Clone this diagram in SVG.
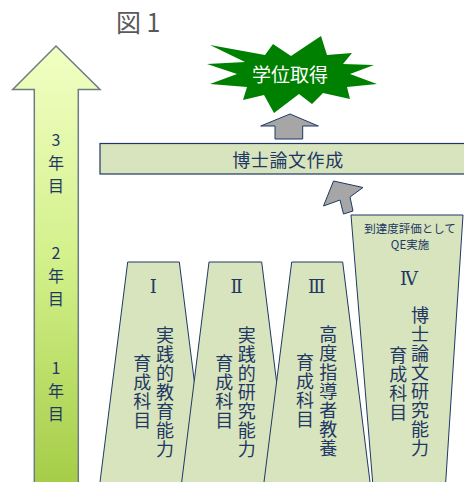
<svg xmlns="http://www.w3.org/2000/svg" width="464" height="482" viewBox="0 0 464 482">
<style>
.jp{font-family:"Noto Sans CJK JP","Noto Sans",sans-serif;fill:#1f3864}
.col{font-size:18px;letter-spacing:1px;writing-mode:vertical-rl;text-orientation:upright}
.yr{font-size:16px;letter-spacing:7px;writing-mode:vertical-rl;text-orientation:upright}
.rn{font-family:"DejaVu Serif","Liberation Serif",serif;fill:#1f3864;font-size:18px;text-anchor:middle}
.trap{fill:#d7e4bd;stroke:#1f3864;stroke-width:1}
.garrow{fill:#a6a6a6;stroke:#1f3864;stroke-width:1}
</style>
<defs>
<linearGradient id="lg" x1="0" y1="46" x2="0" y2="482" gradientUnits="userSpaceOnUse">
<stop offset="0" stop-color="#f2ffc4"/>
<stop offset="0.5" stop-color="#d2f08a"/>
<stop offset="1" stop-color="#a6cd48"/>
</linearGradient>
</defs>
<rect width="464" height="482" fill="#ffffff"/>
<text x="116" y="32" font-family="Noto Sans CJK JP, sans-serif" font-size="25" fill="#595959">図 1</text>

<g id="year-arrow">
<polygon points="56,46 100,89.5 78.3,89.5 78.3,490 34.3,490 34.3,89.5 12.7,89.5" fill="url(#lg)" stroke="#6f7b82" stroke-width="1.5"/>
<text class="jp yr" x="56" y="132">3年目</text>
<text class="jp yr" x="56" y="245">2年目</text>
<text class="jp yr" x="56" y="360">1年目</text>
</g>

<g id="degree">
<polygon points="210,45 265,55 273,44 291,56 321,36 327,55 352,53 343,64 374,65 350,74 377,84 347,87 350,99 323,93 312,104 299,94 274,113 264,95 243,100 247,87 210,84 237,74 207,64 245,62" fill="#008000"/>
<text x="290" y="82" font-family="Noto Sans CJK JP, sans-serif" font-size="19" fill="#ffffff" text-anchor="middle">学位取得</text>
</g>

<g id="thesis">
<rect x="100" y="143.5" width="367" height="30.5" fill="#d7e4bd" stroke="#1f3864" stroke-width="1.2"/>
<text x="288" y="167" class="jp" font-size="18" letter-spacing="0.6" text-anchor="middle">博士論文作成</text>
</g>

<g id="connectors">
<polygon class="garrow" points="290,114 318.3,126 302.7,126 302.7,139 275,139 275,126 260.7,126"/>
<polygon class="garrow" points="333.5,181 363,187.5 350,197 353,211 343.5,214 340,200 323.5,206"/>
</g>

<g id="course1">
<polygon class="trap" points="127.7,262 179.3,262 208,490 99,490"/>
<text class="rn" x="153.3" y="293">Ⅰ</text>
<text class="jp col" x="165" y="326">実践的教育能力</text>
<text class="jp col" x="142.3" y="354">育成科目</text>
</g>

<g id="course2">
<polygon class="trap" points="209,262 261.7,262 290,490 180.7,490"/>
<text class="rn" x="236.7" y="293">Ⅱ</text>
<text class="jp col" x="246.7" y="326">実践的研究能力</text>
<text class="jp col" x="224.3" y="354">育成科目</text>
</g>

<g id="course3">
<polygon class="trap" points="291.7,262 342.7,262 371,490 263,490"/>
<text class="rn" x="316.7" y="293">Ⅲ</text>
<text class="jp col" x="328.3" y="325">高度指導者教養</text>
<text class="jp col" x="305" y="353">育成科目</text>
</g>

<g id="course4">
<polygon class="trap" points="351,215 463,215 445.2,490 373.3,490"/>
<text class="jp" x="410" y="233" font-size="11.5" text-anchor="middle">到達度評価として</text>
<text class="jp" x="410" y="249" font-size="11.5" text-anchor="middle">QE実施</text>
<text class="rn" x="409" y="285">Ⅳ</text>
<text class="jp col" x="420" y="306">博士論文研究能力</text>
<text class="jp col" x="398.3" y="346">育成科目</text>
</g>
</svg>
